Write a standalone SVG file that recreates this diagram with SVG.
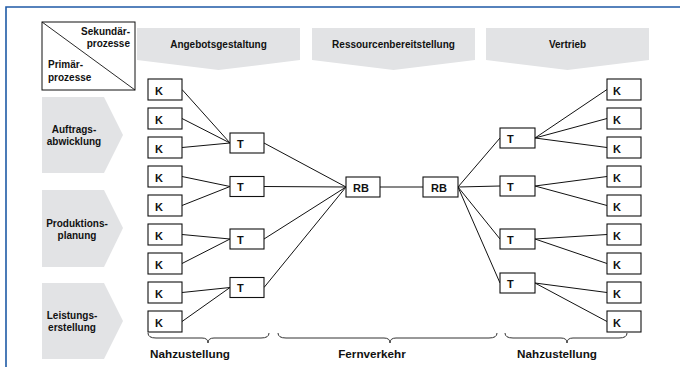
<svg xmlns="http://www.w3.org/2000/svg" width="680" height="367" viewBox="0 0 680 367">
<style>
.bn{fill:#e2e3e5;stroke:none}
.bx{fill:#fff;stroke:#111;stroke-width:1.1}
.t{font-family:"Liberation Sans",Arial,sans-serif;font-weight:bold;fill:#111}
.h{font-size:10px;text-anchor:middle}
.k{font-size:11px}
.ln{stroke:#111;stroke-width:1;fill:none}
.br{stroke:#333;stroke-width:1;fill:none}
.lb{font-size:11.7px;text-anchor:middle}
</style>
<rect width="680" height="367" fill="#fff"/>
<path d="M6,367 V7 H680" fill="none" stroke="#1f5aa6" stroke-width="1.6"/>

<g id="corner">
<rect x="42" y="22" width="93" height="68" fill="#fff" stroke="#111" stroke-width="1"/>
<line x1="42" y1="22" x2="135" y2="90" stroke="#111" stroke-width="0.9"/>
<text class="t" font-size="10" x="130" y="35" text-anchor="end">Sekundär-</text>
<text class="t" font-size="10" x="130" y="47" text-anchor="end">prozesse</text>
<text class="t" font-size="10" x="48" y="68">Primär-</text>
<text class="t" font-size="10" x="48" y="81">prozesse</text>
</g>

<g id="h-angebot"><path class="bn" d="M137,28 H300 V60 L218.5,70 L137,60 Z"/><text class="t h" x="218.5" y="48">Angebotsgestaltung</text></g>
<g id="h-ressourcen"><path class="bn" d="M312,28 H475 V60 L393.5,70 L312,60 Z"/><text class="t h" x="393.5" y="48">Ressourcenbereitstellung</text></g>
<g id="h-vertrieb"><path class="bn" d="M486,28 H649 V60 L567.5,70 L486,60 Z"/><text class="t h" x="567.5" y="48">Vertrieb</text></g>

<g id="p-auftrag"><path class="bn" d="M42,97 H104 L123,135 L104,173 H42 Z"/><text class="t h" x="74" y="133">Auftrags-</text><text class="t h" x="74" y="145">abwicklung</text></g>
<g id="p-produktion"><path class="bn" d="M42,190 H104 L123,228 L104,267 H42 Z"/><text class="t h" x="77" y="227">Produktions-</text><text class="t h" x="77" y="239">planung</text></g>
<g id="p-leistung"><path class="bn" d="M42,283 H104 L123,321 L104,359 H42 Z"/><text class="t h" x="72" y="319">Leistungs-</text><text class="t h" x="72" y="331">erstellung</text></g>

<g id="connectors">
<path class="ln" d="M182,89.5 L230,143 M182,118.5 L230,143 M182,147.5 L230,143
M182,176.5 L230,186.5 M182,205.5 L230,186.5
M182,234.5 L230,239 M182,263.5 L230,239
M182,292.5 L230,287.5 M182,321.5 L230,287.5
M264,143 L346,187 M264,186.5 L346,187 M264,239 L346,187 M264,287.5 L346,187
M380,187 L423,187
M458,187 L500,138 M458,187 L500,186 M458,187 L500,239 M458,187 L500,283
M535,138 L607,89.5 M535,138 L607,118.5 M535,138 L607,147.5
M535,186 L607,176.5 M535,186 L607,205.5
M535,239 L607,234.5 M535,239 L607,263.5
M535,283 L607,292.5 M535,283 L607,321.5"/>
</g>

<g id="kl1"><rect class="bx" x="148" y="79" width="34" height="21"/><text class="t k" x="155" y="94.5">K</text></g>
<g id="kl2"><rect class="bx" x="148" y="108" width="34" height="21"/><text class="t k" x="155" y="123.5">K</text></g>
<g id="kl3"><rect class="bx" x="148" y="137" width="34" height="21"/><text class="t k" x="155" y="152.5">K</text></g>
<g id="kl4"><rect class="bx" x="148" y="166" width="34" height="21"/><text class="t k" x="155" y="181.5">K</text></g>
<g id="kl5"><rect class="bx" x="148" y="195" width="34" height="21"/><text class="t k" x="155" y="210.5">K</text></g>
<g id="kl6"><rect class="bx" x="148" y="224" width="34" height="21"/><text class="t k" x="155" y="239.5">K</text></g>
<g id="kl7"><rect class="bx" x="148" y="253" width="34" height="21"/><text class="t k" x="155" y="268.5">K</text></g>
<g id="kl8"><rect class="bx" x="148" y="282" width="34" height="21"/><text class="t k" x="155" y="297.5">K</text></g>
<g id="kl9"><rect class="bx" x="148" y="311" width="34" height="21"/><text class="t k" x="155" y="326.5">K</text></g>

<g id="tl1"><rect class="bx" x="230" y="133" width="34" height="20"/><text class="t k" x="237" y="147.5">T</text></g>
<g id="tl2"><rect class="bx" x="230" y="176.5" width="34" height="20"/><text class="t k" x="237" y="191">T</text></g>
<g id="tl3"><rect class="bx" x="230" y="229" width="34" height="20"/><text class="t k" x="237" y="243.5">T</text></g>
<g id="tl4"><rect class="bx" x="230" y="277.5" width="34" height="20"/><text class="t k" x="237" y="292">T</text></g>

<g id="rb1"><rect class="bx" x="346" y="177" width="34" height="20"/><text class="t k" x="353" y="191.5">RB</text></g>
<g id="rb2"><rect class="bx" x="423" y="177" width="35" height="20"/><text class="t k" x="431" y="191.5">RB</text></g>

<g id="tr1"><rect class="bx" x="500" y="128" width="35" height="20"/><text class="t k" x="507" y="142.5">T</text></g>
<g id="tr2"><rect class="bx" x="500" y="176" width="35" height="20"/><text class="t k" x="507" y="190.5">T</text></g>
<g id="tr3"><rect class="bx" x="500" y="229" width="35" height="20"/><text class="t k" x="507" y="243.5">T</text></g>
<g id="tr4"><rect class="bx" x="500" y="273" width="35" height="20"/><text class="t k" x="507" y="287.5">T</text></g>

<g id="kr1"><rect class="bx" x="607" y="79" width="34" height="21"/><text class="t k" x="613" y="94.5">K</text></g>
<g id="kr2"><rect class="bx" x="607" y="108" width="34" height="21"/><text class="t k" x="613" y="123.5">K</text></g>
<g id="kr3"><rect class="bx" x="607" y="137" width="34" height="21"/><text class="t k" x="613" y="152.5">K</text></g>
<g id="kr4"><rect class="bx" x="607" y="166" width="34" height="21"/><text class="t k" x="613" y="181.5">K</text></g>
<g id="kr5"><rect class="bx" x="607" y="195" width="34" height="21"/><text class="t k" x="613" y="210.5">K</text></g>
<g id="kr6"><rect class="bx" x="607" y="224" width="34" height="21"/><text class="t k" x="613" y="239.5">K</text></g>
<g id="kr7"><rect class="bx" x="607" y="253" width="34" height="21"/><text class="t k" x="613" y="268.5">K</text></g>
<g id="kr8"><rect class="bx" x="607" y="282" width="34" height="21"/><text class="t k" x="613" y="297.5">K</text></g>
<g id="kr9"><rect class="bx" x="607" y="311" width="34" height="21"/><text class="t k" x="613" y="326.5">K</text></g>

<g id="b-nah-l"><path class="br" d="M148,333 Q148,338 156,338 H202 Q208,338 208,343 Q208,338 214,338 H261 Q269,338 269,333"/><text class="t lb" x="190" y="358">Nahzustellung</text></g>
<g id="b-fern"><path class="br" d="M278,333 Q278,338 286,338 H384 Q390,338 390,343 Q390,338 396,338 H489 Q497,338 497,333"/><text class="t lb" x="372" y="358">Fernverkehr</text></g>
<g id="b-nah-r"><path class="br" d="M505,333 Q505,338 513,338 H561 Q567,338 567,343 Q567,338 573,338 H619 Q627,338 627,333"/><text class="t lb" x="557" y="358">Nahzustellung</text></g>
</svg>
